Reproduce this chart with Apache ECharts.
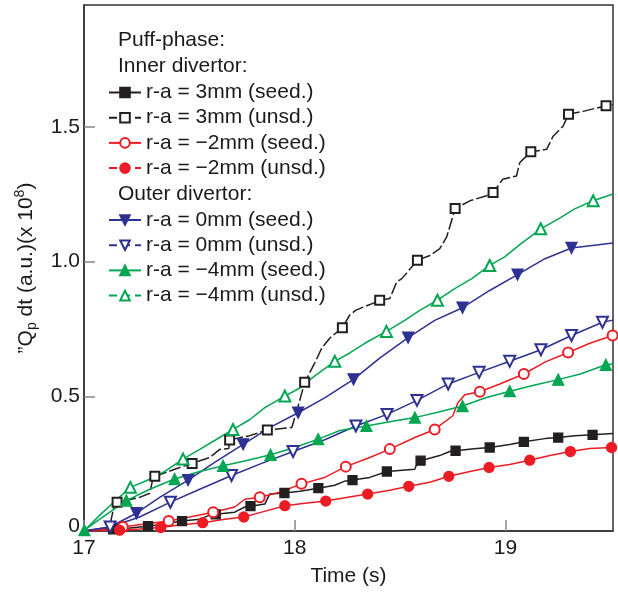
<!DOCTYPE html>
<html><head><meta charset="utf-8">
<script src="https://cdn.jsdelivr.net/npm/echarts@6/dist/echarts.min.js"></script>
<style>html,body{margin:0;padding:0;background:#fff}#c{width:618px;height:592px}</style>
</head><body><div id="c"></div>
<script>
// ---- data (time in s, value in a.u. x 1e8) ----
const xTicks = [17, 18, 19];
const yTicks = [0, 0.5, 1.0, 1.5];
const names = ['r-a = 3mm (seed.)','r-a = 3mm (unsd.)','r-a = \u22122mm (seed.)','r-a = \u22122mm (unsd.)',
               'r-a = 0mm (seed.)','r-a = 0mm (unsd.)','r-a = \u22124mm (seed.)','r-a = \u22124mm (unsd.)'];

const blackSeedLine = [[17.0,0],[17.075,0.002],[17.217,0.011],[17.383,0.026],[17.549,0.044],[17.597,0.059],[17.715,0.070],[17.763,0.089],[17.858,0.100],[17.881,0.137],[18.024,0.148],[18.190,0.170],[18.237,0.185],[18.356,0.199],[18.569,0.229],[18.583,0.255],[18.688,0.280],[18.735,0.295],[18.85,0.305],[19.020,0.321],[19.187,0.343],[19.329,0.354],[19.51,0.362]];
const blackSeedMarks = [[17.138,0.006],[17.304,0.018],[17.465,0.037],[17.625,0.062],[17.790,0.092],[17.951,0.141],[18.112,0.159],[18.274,0.189],[18.437,0.221],[18.597,0.261],[18.763,0.298],[18.925,0.310],[19.087,0.331],[19.250,0.347],[19.413,0.357]];

const blackUnsdLine = [[17.0,0],[17.098,0.004],[17.122,0.015],[17.141,0.089],[17.264,0.125],[17.312,0.140],[17.326,0.192],[17.430,0.229],[17.597,0.273],[17.644,0.303],[17.687,0.306],[17.786,0.354],[17.986,0.384],[18.014,0.458],[18.095,0.624],[18.128,0.679],[18.166,0.716],[18.261,0.802],[18.290,0.820],[18.370,0.845],[18.451,0.863],[18.484,0.925],[18.508,0.937],[18.641,1.023],[18.688,1.048],[18.721,1.092],[18.831,1.226],[18.910,1.245],[18.987,1.306],[19.052,1.318],[19.068,1.368],[19.195,1.417],[19.226,1.466],[19.273,1.503],[19.368,1.558],[19.51,1.583]];
const blackUnsdMarks = [[17.157,0.107],[17.336,0.203],[17.513,0.251],[17.691,0.338],[17.870,0.375],[18.047,0.552],[18.226,0.755],[18.403,0.857],[18.582,1.005],[18.761,1.197],[18.941,1.257],[19.120,1.408],[19.299,1.547],[19.477,1.579]];

const redSeedLine = [[17.0,0],[17.098,0.007],[17.288,0.026],[17.502,0.052],[17.715,0.089],[17.763,0.118],[17.929,0.144],[18.142,0.199],[18.356,0.273],[18.570,0.347],[18.750,0.428],[18.774,0.476],[18.807,0.506],[18.973,0.546],[19.187,0.627],[19.400,0.697]];
const redSeedMarks = [[17.184,0.015],[17.402,0.037],[17.613,0.070],[17.834,0.125],[18.032,0.175],[18.242,0.239],[18.451,0.304],[18.664,0.377],[18.878,0.517],[19.087,0.583],[19.297,0.663],[19.508,0.726]];

const redUnsdLine = [[17.0,0],[17.264,0.007],[17.454,0.022],[17.668,0.044],[17.843,0.070],[18.048,0.103],[18.252,0.125],[18.451,0.151],[18.641,0.181],[18.831,0.221],[19.020,0.247],[19.210,0.280],[19.400,0.306],[19.51,0.312]];
const redUnsdMarks = [[17.169,0.003],[17.364,0.013],[17.563,0.031],[17.758,0.052],[17.953,0.094],[18.147,0.111],[18.346,0.137],[18.541,0.166],[18.731,0.203],[18.922,0.236],[19.115,0.263],[19.308,0.295],[19.503,0.310]];

const blueSeedLine = [[17.0,0],[17.122,0.015],[17.359,0.125],[17.620,0.255],[17.881,0.384],[18.142,0.494],[18.403,0.642],[18.664,0.782],[18.925,0.893],[19.187,1.011],[19.51,1.069]];
const blueSeedMarks = [[17.249,0.066],[17.494,0.189],[17.755,0.322],[18.016,0.439],[18.279,0.563],[18.538,0.718],[18.796,0.829],[19.057,0.952],[19.313,1.051]];

const blueUnsdLine = [[17.0,0],[17.264,0.052],[17.549,0.155],[17.843,0.251],[18.142,0.339],[19.51,0.783]];
const blueUnsdMarks = [[17.124,0.015],[17.410,0.107],[17.700,0.206],[17.992,0.295],[18.290,0.390],[18.438,0.433],[18.580,0.485],[18.728,0.546],[18.875,0.589],[19.020,0.630],[19.168,0.673],[19.313,0.726],[19.460,0.775]];

const greenSeedLine = [[17.075,0.044],[17.312,0.155],[17.549,0.221],[17.772,0.262],[18.000,0.310],[18.214,0.373],[18.450,0.406],[18.688,0.443],[18.902,0.494],[19.139,0.542],[19.355,0.583],[19.51,0.620]];
const greenSeedMarks = [[17.002,0.003],[17.201,0.113],[17.430,0.193],[17.660,0.242],[17.885,0.283],[18.111,0.341],[18.340,0.390],[18.570,0.421],[18.796,0.464],[19.020,0.519],[19.250,0.562],[19.476,0.617]];

const greenUnsdLine = [[17.0,0],[17.075,0.059],[17.136,0.103],[17.312,0.192],[17.383,0.221],[17.549,0.303],[17.620,0.336],[17.786,0.413],[17.858,0.458],[18.024,0.531],[18.095,0.576],[18.261,0.661],[18.332,0.697],[18.522,0.782],[18.593,0.819],[18.759,0.900],[18.840,0.937],[18.996,1.018],[19.068,1.063],[19.257,1.162],[19.328,1.196],[19.51,1.251]];
const greenUnsdMarks = [[17.220,0.162],[17.470,0.267],[17.707,0.377],[17.953,0.501],[18.190,0.630],[18.435,0.741],[18.677,0.857],[18.925,0.986],[19.167,1.122],[19.416,1.226]];

// ---- build ----
const FONT = 'Liberation Sans, Arial, Helvetica, sans-serif';
const FS = 21;
const TXT = '#1a1a1a';
const BLACK = '#231f20', RED = '#ed1c24', BLUE = '#2e3192', GREEN = '#00a651';

function merge(line, marks) {
  const a = line.map(p => ({ value: p, symbol: 'none' }));
  const b = marks.map(p => ({ value: p }));
  return a.concat(b).sort((u, v) => u.value[0] - v.value[0]);
}
function mk(name, color, symbol, size, rotate, line, marks, dash) {
  return {
    name, type: 'line', data: merge(line, marks),
    symbol, symbolSize: size, symbolRotate: rotate, showAllSymbol: true,
    lineStyle: { color, width: 1.5, type: dash || 'solid' },
    itemStyle: { color, borderColor: color, borderWidth: 1.3 },
    emphasis: { disabled: true }, animation: false, z: 3
  };
}
const series = [
  mk(names[0], BLACK, 'rect', 9, 0, blackSeedLine, blackSeedMarks),
  mk(names[1], BLACK, 'emptyRect', 9, 0, blackUnsdLine, blackUnsdMarks, [12, 3]),
  mk(names[2], RED, 'emptyCircle', 10, 0, redSeedLine, redSeedMarks),
  mk(names[3], RED, 'circle', 10, 0, redUnsdLine, redUnsdMarks),
  mk(names[4], BLUE, 'triangle', 11, 180, blueSeedLine, blueSeedMarks),
  mk(names[5], BLUE, 'emptyTriangle', 11, 180, blueUnsdLine, blueUnsdMarks),
  mk(names[6], GREEN, 'triangle', 11, 0, greenSeedLine, greenSeedMarks),
  mk(names[7], GREEN, 'emptyTriangle', 11, 0, greenUnsdLine, greenUnsdMarks)
];

function legendData(idx) {
  return idx.map(i => i % 2 === 1 ? { name: names[i], lineStyle: { type: [8, 5] } } : { name: names[i] });
}
const legendCommon = {
  orient: 'vertical', left: 108, padding: 0, itemWidth: 32, itemHeight: 12, itemGap: 4.2,
  selectedMode: false,
  textStyle: { fontFamily: FONT, fontSize: FS, color: TXT, lineHeight: 20, padding: [0, 0, 0, 0] }
};

const chart = echarts.init(document.getElementById('c'), null, { renderer: 'canvas' });
chart.setOption({
  backgroundColor: '#fff',
  animation: false,
  grid: { left: 84, right: 5, top: 5, bottom: 58, show: true, borderColor: '#333', borderWidth: 1.5, backgroundColor: 'transparent' },
  legend: [
    Object.assign({}, legendCommon, { top: 82, data: legendData([0, 1, 2, 3]) }),
    Object.assign({}, legendCommon, { top: 209.5, data: legendData([4, 5, 6, 7]) })
  ],
  graphic: [
    { type: 'text', left: 118, top: 30, style: { text: 'Puff-phase:', font: FS + 'px ' + FONT, fill: TXT } },
    { type: 'text', left: 118, top: 55.5, style: { text: 'Inner divertor:', font: FS + 'px ' + FONT, fill: TXT } },
    { type: 'text', left: 118, top: 184, style: { text: 'Outer divertor:', font: FS + 'px ' + FONT, fill: TXT } }
  ],
  xAxis: {
    type: 'value', min: 17, max: 19.51, interval: 1,
    name: 'Time (s)', nameLocation: 'middle', nameGap: 35,
    nameTextStyle: { fontFamily: FONT, fontSize: FS, color: TXT },
    axisLine: { show: true, lineStyle: { color: '#333', width: 1.5 } },
    axisTick: { show: true, inside: true, length: 11, lineStyle: { color: '#888', width: 1.5 } },
    axisLabel: { fontFamily: FONT, fontSize: FS, color: TXT, margin: 7, showMaxLabel: false,
      formatter: v => xTicks.indexOf(v) >= 0 ? String(v) : '' },
    splitLine: { show: false }
  },
  yAxis: {
    type: 'value', min: 0, max: 1.953, interval: 0.5,
    name: '\u201dQ{sub|p} dt (a.u.)(x 10{sup|8})', nameLocation: 'middle', nameGap: 45, nameRotate: 90,
    nameTextStyle: { fontFamily: FONT, fontSize: FS, color: TXT, lineHeight: 26,
      rich: { sub: { fontFamily: FONT, fontSize: 14, lineHeight: 14, verticalAlign: 'bottom', color: TXT },
              sup: { fontFamily: FONT, fontSize: 14, lineHeight: 14, verticalAlign: 'top', color: TXT } } },
    axisLine: { show: true, lineStyle: { color: '#333', width: 1.5 } },
    axisTick: { show: true, inside: true, length: 11, lineStyle: { color: '#888', width: 1.5 } },
    axisLabel: { fontFamily: FONT, fontSize: FS, color: TXT, margin: 4, showMaxLabel: false,
      rich: { z: { fontFamily: FONT, fontSize: FS, color: TXT, padding: [0, 0, 10, 0] } },
      formatter: v => yTicks.indexOf(v) >= 0 ? (v === 0 ? '{z|0}' : v.toFixed(1)) : '' },
    splitLine: { show: false }
  },
  series
});
</script></body></html>
